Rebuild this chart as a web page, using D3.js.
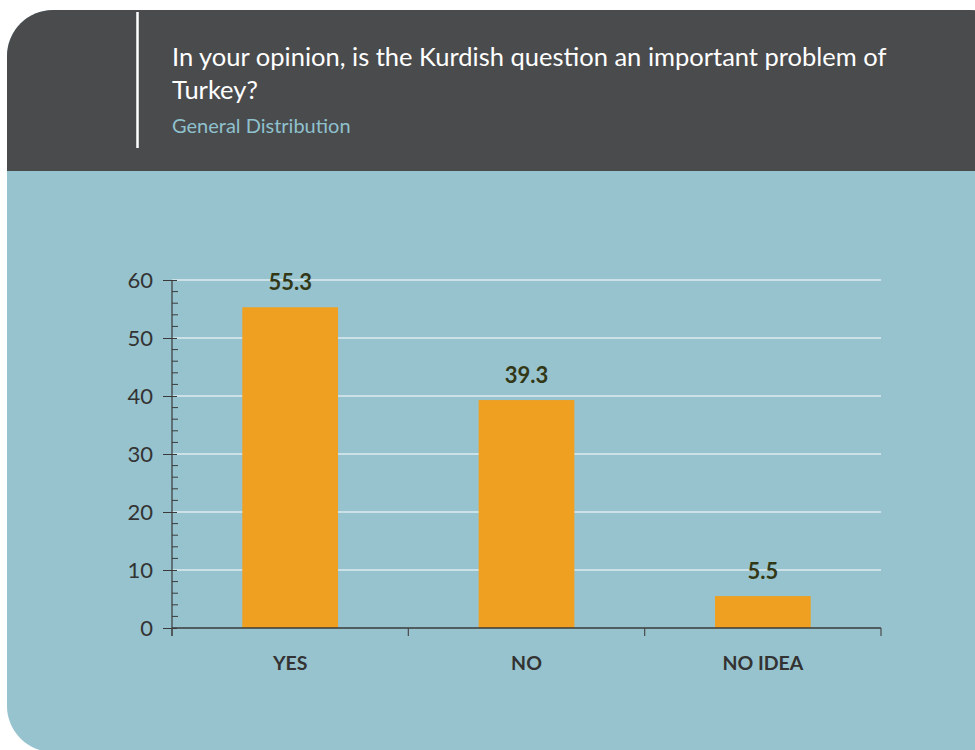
<!DOCTYPE html>
<html>
<head>
<meta charset="utf-8">
<script src="https://cdn.jsdelivr.net/npm/d3@7"></script>
<style>
  body { margin: 0; background: #ffffff; }
  svg { display: block; }
</style>
</head>
<body>
<div id="chart"></div>
<script>
// Data.
const categories = [ 'YES', 'NO', 'NO IDEA' ];
const values = [ 55.3, 39.3, 5.5 ];
const y_ticks = [ 0, 10, 20, 30, 40, 50, 60 ];
const title_lines = [ 'In your opinion, is the Kurdish question an important problem of', 'Turkey?' ];
const subtitle = 'General Distribution';

const width = 975, height = 750;
const font = 'Lato, "Open Sans", sans-serif';
const plot = { left: 172, right: 881, top: 280, bottom: 628 };

const svg = d3.select( '#chart' ).append( 'svg' )
  .attr( 'width', width )
  .attr( 'height', height );

// Card: teal body with a dark header, clipped to a rounded rectangle.
svg.append( 'clipPath' ).attr( 'id', 'card' )
  .append( 'rect' )
    .attr( 'x', 7 ).attr( 'y', 10 )
    .attr( 'width', 1010 ).attr( 'height', 742 )
    .attr( 'rx', 46 ).attr( 'ry', 46 );

const card = svg.append( 'g' ).attr( 'clip-path', 'url(#card)' );
card.append( 'rect' )
  .attr( 'x', 0 ).attr( 'y', 0 ).attr( 'width', width ).attr( 'height', height )
  .attr( 'fill', '#97c3cf' );
card.append( 'rect' )
  .attr( 'x', 0 ).attr( 'y', 0 ).attr( 'width', width ).attr( 'height', 171 )
  .attr( 'fill', '#4a4b4d' );

// White rule left of the title.
svg.append( 'line' )
  .attr( 'x1', 137.5 ).attr( 'x2', 137.5 )
  .attr( 'y1', 12 ).attr( 'y2', 148 )
  .attr( 'stroke', '#ffffff' ).attr( 'stroke-width', 2.5 );

svg.append( 'g' ).selectAll( 'text' )
  .data( title_lines )
  .enter().append( 'text' )
    .attr( 'x', 172 )
    .attr( 'y', function( d, i ){ return 66 + i * 33 } )
    .attr( 'fill', '#ffffff' )
    .style( 'font-family', font )
    .style( 'font-size', '25.5px' )
    .text( function( d ){ return d } );

svg.append( 'text' )
  .attr( 'x', 172 ).attr( 'y', 133 )
  .attr( 'fill', '#8fc1cd' )
  .style( 'font-family', font )
  .style( 'font-size', '20px' )
  .text( subtitle );

// Scales.
const x_scale = d3.scaleBand()
  .domain( categories )
  .range( [ plot.left, plot.right ] )
  .paddingInner( 0 )
  .paddingOuter( 0 );

const y_scale = d3.scaleLinear()
  .domain( [ 0, 60 ] )
  .range( [ plot.bottom, plot.top ] );

// Gridlines.
svg.append( 'g' ).selectAll( 'line' )
  .data( y_ticks.filter( function( d ){ return d > 0 } ) )
  .enter().append( 'line' )
    .attr( 'x1', plot.left ).attr( 'x2', plot.right )
    .attr( 'y1', function( d ){ return y_scale( d ) } )
    .attr( 'y2', function( d ){ return y_scale( d ) } )
    .attr( 'stroke', '#ffffff' ).attr( 'stroke-width', 1.2 );

// Bars.
const bar_width = x_scale.bandwidth() * 0.405;
svg.append( 'g' ).selectAll( 'rect' )
  .data( values )
  .enter().append( 'rect' )
    .attr( 'x', function( d, i ){ return x_scale( categories[ i ] ) + ( x_scale.bandwidth() - bar_width ) / 2 } )
    .attr( 'y', function( d ){ return y_scale( d ) } )
    .attr( 'width', bar_width )
    .attr( 'height', function( d ){ return y_scale( 0 ) - y_scale( d ) } )
    .attr( 'fill', '#f0a020' );

// Value labels.
svg.append( 'g' ).selectAll( 'text' )
  .data( values )
  .enter().append( 'text' )
    .attr( 'x', function( d, i ){ return x_scale( categories[ i ] ) + x_scale.bandwidth() / 2 } )
    .attr( 'y', function( d ){ return y_scale( d ) - 17 } )
    .attr( 'text-anchor', 'middle' )
    .attr( 'fill', '#323816' )
    .style( 'font-family', font )
    .style( 'font-weight', 'bold' )
    .style( 'font-size', '22px' )
    .text( function( d ){ return d.toFixed( 1 ) } );

// Y axis: major ticks with labels, minor ticks every 2 units on the inside.
const y_axis = svg.append( 'g' )
  .attr( 'transform', 'translate(' + plot.left + ',0)' );
y_axis.call( d3.axisLeft( y_scale ).tickValues( y_ticks ).tickSize( 9 ).tickPadding( 10 ) );
y_axis.select( '.domain' ).remove();
y_axis.selectAll( '.tick line' ).attr( 'x2', -9 ).attr( 'x1', 5 ).attr( 'stroke', '#3a3a3a' );
y_axis.selectAll( '.tick text' )
  .attr( 'fill', '#333333' )
  .style( 'font-family', font )
  .style( 'font-size', '22px' );

svg.append( 'g' ).selectAll( 'line' )
  .data( d3.range( 0, 61, 2 ).filter( function( d ){ return d % 10 !== 0 } ) )
  .enter().append( 'line' )
    .attr( 'x1', plot.left ).attr( 'x2', plot.left + 6 )
    .attr( 'y1', function( d ){ return y_scale( d ) } )
    .attr( 'y2', function( d ){ return y_scale( d ) } )
    .attr( 'stroke', '#3a3a3a' ).attr( 'stroke-width', 1 );

svg.append( 'line' )
  .attr( 'x1', plot.left ).attr( 'x2', plot.left )
  .attr( 'y1', plot.top ).attr( 'y2', plot.bottom + 8 )
  .attr( 'stroke', '#3a3a3a' ).attr( 'stroke-width', 1.2 );

// X axis: baseline with ticks at the category boundaries.
const boundaries = categories.map( function( c ){ return x_scale( c ) } ).concat( [ plot.right ] );
svg.append( 'line' )
  .attr( 'x1', plot.left ).attr( 'x2', plot.right )
  .attr( 'y1', plot.bottom ).attr( 'y2', plot.bottom )
  .attr( 'stroke', '#3a3a3a' ).attr( 'stroke-width', 1.4 );
svg.append( 'g' ).selectAll( 'line' )
  .data( boundaries )
  .enter().append( 'line' )
    .attr( 'x1', function( d ){ return d } ).attr( 'x2', function( d ){ return d } )
    .attr( 'y1', plot.bottom ).attr( 'y2', plot.bottom + 8 )
    .attr( 'stroke', '#4a4a4a' ).attr( 'stroke-width', 1.2 );

svg.append( 'g' ).selectAll( 'text' )
  .data( categories )
  .enter().append( 'text' )
    .attr( 'x', function( d ){ return x_scale( d ) + x_scale.bandwidth() / 2 } )
    .attr( 'y', 670 )
    .attr( 'text-anchor', 'middle' )
    .attr( 'fill', '#333333' )
    .style( 'font-family', font )
    .style( 'font-weight', 'bold' )
    .style( 'font-size', '19.5px' )
    .text( function( d ){ return d } );
</script>
</body>
</html>
